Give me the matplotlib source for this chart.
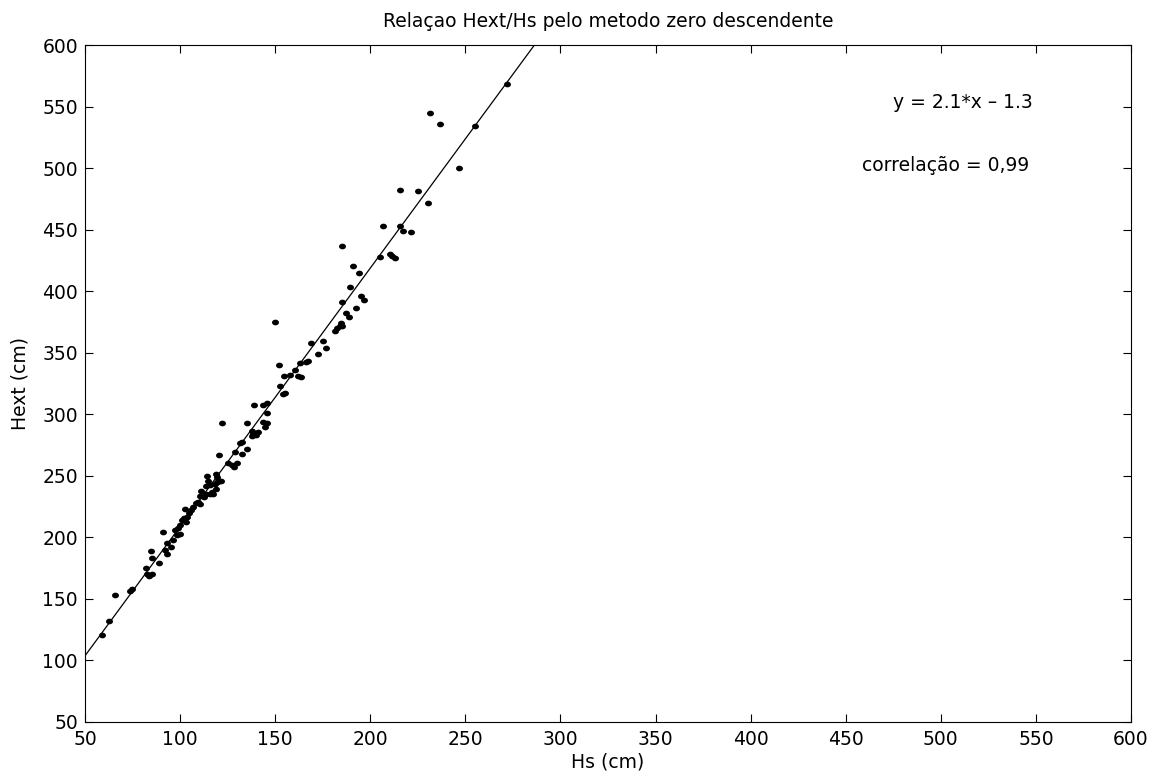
import matplotlib
matplotlib.use("Agg")
import matplotlib.pyplot as plt
from matplotlib.path import Path
import numpy as np

plt.rcParams['font.family'] = ['DejaVu Sans']

# Scatter data (Hs, Hext) in cm
hs = [59, 62.5, 65.9, 73.7, 74.5, 82.1, 82.4, 83.8, 85, 88.7, 85, 84.5,
      91.2, 93.4, 95, 92.1, 92.9, 96.4, 98.2, 99.9, 97.6, 99, 99.9, 100.8,
      102.2, 103.1, 103.8, 104.8, 105.7, 102.6, 106.9, 108.2, 109.6, 110.5,
      110.5, 112.6, 110.8, 113.9, 116, 116.6, 113.9, 115.7, 118.9, 117.5,
      114.3, 114.8, 118.4, 119.6, 120.5, 121.4, 118.9, 119.6, 120.5, 122.2,
      125.4, 127.1, 130, 128.3, 128.9, 132.7, 135.3, 131.5, 132.4, 135,
      137.6, 138.5, 140.2, 137.6, 141.1, 139, 143.4, 145.9, 144.6, 145.5,
      143.8, 145.9, 150, 152, 152.5, 154.3, 155.2, 154.8, 157.8, 162.2,
      163.6, 160.4, 163, 166.2, 167.4, 169.1, 172.7, 175.3, 177, 181.4,
      182.6, 184.4, 185.4, 184, 185.4, 187.5, 189, 192.5, 194.9, 196.8,
      184.9, 190.7, 194.2, 189.3, 206.5, 215.9, 217, 221.7, 205.1, 210.4,
      211.3, 213, 215.6, 225.2, 230.5, 231.4, 236.6, 255, 271.7, 246.8]
hext = [121, 132, 153, 156, 158, 175, 170, 168.6, 170, 179, 183, 189,
        204, 195, 192, 189.7, 186.2, 198, 202, 202.7, 206, 207.4, 210, 214,
        215.5, 212.7, 216.8, 219.6, 222.2, 222.7, 225, 227.6, 228.4, 227,
        233.6, 232.6, 237.7, 235.6, 235.1, 236.5, 241.7, 242.5, 238.9, 235.2,
        250, 246, 243.3, 245, 246, 246, 251.5, 248.8, 267, 293,
        260.6, 258.8, 260.1, 257.4, 269.4, 268, 272, 277, 277.5, 293,
        286.6, 283.6, 283.1, 282.5, 285.8, 307.3, 294, 293, 289.4, 301.3,
        307.3, 309, 375, 340, 323, 316.8, 317.5, 331, 332, 331.3,
        330.5, 336, 341.3, 342.5, 343.3, 358.3, 348.8, 359.5, 354, 367.8,
        370.4, 373.8, 371.7, 371.7, 391.3, 382.3, 379.2, 386.7, 396.3, 393.2,
        436.7, 420.4, 414.4, 403, 453.2, 453.2, 449.1, 448.3, 427.4, 430.2,
        428.6, 427.2, 482.3, 481.5, 471.4, 544.4, 535.5, 534.4, 568.3, 500.3]

slope = 2.1
intercept = -1.3
xticks = [50, 100, 150, 200, 250, 300, 350, 400, 450, 500, 550, 600]
yticks = [50, 100, 150, 200, 250, 300, 350, 400, 450, 500, 550, 600]

title = "Relaçao Hext/Hs pelo metodo zero descendente"
eq_text = "y = 2.1*x \u2013 1.3"
corr_text = "correlação = 0,99"

FS = 13.5

fig = plt.figure(figsize=(11.51, 7.71), dpi=100)
ax = fig.add_axes([0.0738, 0.0636, 0.9088, 0.878])

# slightly wide oval dot marker (like MATLAB '.')
t = np.linspace(0, 2 * np.pi, 40)
oval = Path(np.column_stack([1.22 * np.cos(t), np.sin(t)]), closed=True)

xl = np.array([50, 600])
ax.plot(xl, slope * xl + intercept, color='black', lw=0.9)
ax.plot(hs, hext, linestyle='none', marker=oval, ms=5.0, color='black',
        markeredgewidth=0)

ax.set_xlim(50, 600)
ax.set_ylim(50, 600)
ax.set_xticks(xticks)
ax.set_yticks(yticks)
ax.tick_params(direction='in', length=6, width=0.8, top=True, right=True,
               labelsize=FS, colors='black')
ax.tick_params(axis='x', pad=6)
ax.tick_params(axis='y', pad=5)
for s in ax.spines.values():
    s.set_linewidth(0.8)
    s.set_color('black')

ax.set_title(title, fontsize=FS, pad=13)
ax.set_xlabel("Hs (cm)", fontsize=FS, labelpad=2)
ax.set_ylabel("Hext (cm)", fontsize=FS, labelpad=9)

ax.text(474.8, 553, eq_text, fontsize=FS, ha='left', va='center')
ax.text(458.5, 502, corr_text, fontsize=FS, ha='left', va='center')

fig.savefig("out.png", dpi=100)
